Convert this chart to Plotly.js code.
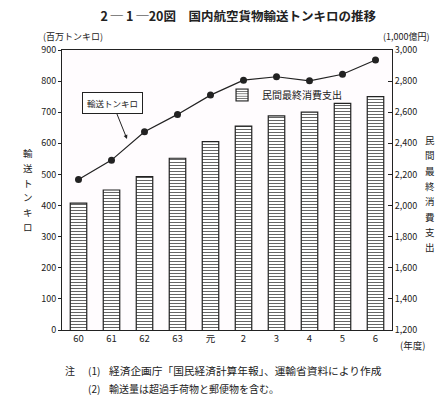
<!DOCTYPE html>
<html><head><meta charset="utf-8">
<script src="https://cdn.plot.ly/plotly-3.0.1.min.js"></script>
<style>html,body{margin:0;padding:0;background:#fff}</style>
</head><body><div id="chart" style="width:441px;height:397px"></div>
<script>
const categories = ["60","61","62","63","元","2","3","4","5","6"];
const tonKm = [484, 546, 637, 693, 755, 803, 814, 801, 822, 868];
const consumption = [2015, 2100, 2186, 2304, 2411, 2511, 2576, 2601, 2657, 2700];
const leftTicks = [0,100,200,300,400,500,600,700,800,900];
const rightTicks = [1200,1400,1600,1800,2000,2200,2400,2600,2800,3000];
const leftTitleChars = ["輸","送","ト","ン","キ","ロ"];
const rightTitleChars = ["民","間","最","終","消","費","支","出"];

const FONT = '"Noto Sans CJK JP", "Noto Sans", sans-serif';
const INK = '#222';

// plot area in pixels (for placing text labels)
const M = {l: 62, r: 49, t: 50, b: 67};
const PW = 441 - M.l - M.r, PH = 397 - M.t - M.b;
const px = x => (x - M.l) / PW;
const py = y => (397 - M.b - y) / PH;

const bars = {
  type: 'bar', x: categories, y: consumption, yaxis: 'y', name: '民間最終消費支出',
  width: 0.5,
  marker: {color: '#ffffff', line: {color: INK, width: 1.2},
           pattern: {shape: '-', fgcolor: '#666', bgcolor: '#fff', size: 3, solidity: 0.35}},
  showlegend: true, hoverinfo: 'skip'
};
const line = {
  type: 'scatter', mode: 'lines+markers', x: categories, y: tonKm, yaxis: 'y2',
  line: {color: INK, width: 1.2}, marker: {color: INK, size: 7},
  showlegend: false, hoverinfo: 'skip'
};

const annotations = [
  {text: '(百万トンキロ)', xref: 'paper', yref: 'paper', x: px(42), y: py(44), xanchor: 'left', yanchor: 'bottom', showarrow: false, font: {size: 9}, borderpad: 0},
  {text: '(1,000億円)', xref: 'paper', yref: 'paper', x: px(431), y: py(44), xanchor: 'right', yanchor: 'bottom', showarrow: false, font: {size: 9}, borderpad: 0},
  {text: '(年度)', xref: 'paper', yref: 'paper', x: px(412), y: py(345), xanchor: 'center', yanchor: 'middle', showarrow: false, font: {size: 9.5}},
  {text: '輸送トンキロ', xref: 'x', yref: 'y2', x: 1.47, y: 614, ax: 1.03, ay: 730, axref: 'x', ayref: 'y2',
   showarrow: true, arrowhead: 2, arrowsize: 0.8, arrowwidth: 1, arrowcolor: INK, standoff: 0,
   bordercolor: INK, borderwidth: 1, borderpad: 4, bgcolor: '#fff', font: {size: 8.5}},
  {text: '注', xref: 'paper', yref: 'paper', x: px(63), y: py(370), xanchor: 'left', yanchor: 'middle', showarrow: false, font: {size: 10}},
  {text: '(1)', xref: 'paper', yref: 'paper', x: px(86), y: py(370), xanchor: 'left', yanchor: 'middle', showarrow: false, font: {size: 10}},
  {text: '経済企画庁「国民経済計算年報」、運輸省資料により作成', xref: 'paper', yref: 'paper', x: px(107), y: py(370), xanchor: 'left', yanchor: 'middle', showarrow: false, font: {size: 10.7}},
  {text: '(2)', xref: 'paper', yref: 'paper', x: px(86), y: py(388), xanchor: 'left', yanchor: 'middle', showarrow: false, font: {size: 10}},
  {text: '輸送量は超過手荷物と郵便物を含む。', xref: 'paper', yref: 'paper', x: px(107), y: py(388), xanchor: 'left', yanchor: 'middle', showarrow: false, font: {size: 10}}
];
leftTitleChars.forEach((c, i) => annotations.push(
  {text: c, xref: 'paper', yref: 'paper', x: px(28), y: py(153 + i * 14.8), xanchor: 'center', yanchor: 'middle', showarrow: false, font: {size: 9.5}}));
rightTitleChars.forEach((c, i) => annotations.push(
  {text: c, xref: 'paper', yref: 'paper', x: px(430), y: py(140 + i * 15.3), xanchor: 'center', yanchor: 'middle', showarrow: false, font: {size: 9.5}}));

const layout = {
  width: 441, height: 397,
  margin: M,
  paper_bgcolor: '#ffffff', plot_bgcolor: '#fffcfe',
  font: {family: FONT, color: INK, size: 9},
  showlegend: true,
  legend: {x: 0.485, y: py(95), xanchor: 'left', yanchor: 'middle', bgcolor: 'rgba(0,0,0,0)',
           font: {size: 10, family: FONT}, itemwidth: 30},
  title: {text: '<b>2 ─ 1 ─20図　国内航空貨物輸送トンキロの推移</b>', x: 0.54, xanchor: 'center', y: 1 - 17/397, yref: 'container', yanchor: 'middle',
          font: {size: 12.5, family: FONT, color: INK}},
  xaxis: {type: 'category', showline: true, linecolor: INK, linewidth: 1, mirror: true,
          ticks: '', tickfont: {size: 9.5}, range: [-0.5, 9.5], showgrid: false},
  yaxis: {side: 'right', range: [1200, 3000], tickvals: rightTicks, tickformat: ',d',
          showline: true, linecolor: INK, linewidth: 1, ticks: 'inside', ticklen: 4, tickcolor: INK,
          showgrid: false, zeroline: false, tickfont: {size: 9}},
  yaxis2: {overlaying: 'y', side: 'left', range: [0, 900], tickvals: leftTicks,
           showline: true, linecolor: INK, linewidth: 1, ticks: 'outside', ticklen: 3, tickcolor: INK,
           showgrid: false, zeroline: false, tickfont: {size: 9}},
  annotations: annotations
};
Plotly.newPlot('chart', [bars, line], layout, {displayModeBar: false, staticPlot: true});
</script></body></html>
